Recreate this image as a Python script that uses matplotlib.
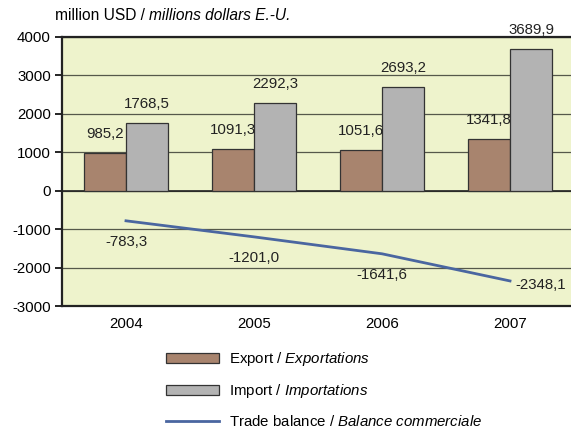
import matplotlib.pyplot as plt
import numpy as np
from matplotlib.patches import Patch
from matplotlib.lines import Line2D

plt.rcParams['font.family'] = ['Liberation Sans', 'DejaVu Sans']
plt.rcParams['mathtext.fontset'] = 'custom'
plt.rcParams['mathtext.rm'] = 'Liberation Sans'
plt.rcParams['mathtext.it'] = 'Liberation Sans:italic'
plt.rcParams['axes.unicode_minus'] = False

years = ['2004', '2005', '2006', '2007']
exports = [985.2, 1091.3, 1051.6, 1341.8]
imports = [1768.5, 2292.3, 2693.2, 3689.9]
balance = [-783.3, -1201.0, -1641.6, -2348.1]

def fmt(v):
  return f'{v:.1f}'.replace('.', ',')

fig = plt.figure(figsize=(5.71, 4.29), dpi=100)
ax = fig.add_axes([62/571, 1-306/429, 512/571, 269/429])
ax.set_facecolor('#eef3cc')

x = np.arange(len(years))
w = 0.328
ax.bar(x - w/2, exports, w, color='#a8846e', edgecolor='#333333', linewidth=0.9, zorder=3)
ax.bar(x + w/2, imports, w, color='#b3b3b3', edgecolor='#333333', linewidth=0.9, zorder=3)
ax.plot(x, balance, color='#4a66a0', linewidth=2, zorder=4)

fs = 10.8
for i in range(len(years)):
  ax.annotate(fmt(exports[i]), (x[i] - w/2, exports[i]), xytext=(0, 8.5), textcoords='offset points',
              ha='center', va='bottom', fontsize=fs, color='#222222')
  ax.annotate(fmt(imports[i]), (x[i] + w/2, imports[i]), xytext=(0, 8.5), textcoords='offset points',
              ha='center', va='bottom', fontsize=fs, color='#222222', zorder=6)
  if i < len(years) - 1:
    ax.annotate(fmt(balance[i]), (x[i], balance[i]), xytext=(0, -10), textcoords='offset points',
                ha='center', va='top', fontsize=fs, color='#222222')
  else:
    ax.annotate(fmt(balance[i]), (x[i], balance[i]), xytext=(4, -3), textcoords='offset points',
                ha='left', va='center', fontsize=fs, color='#222222')

ax.set_xlim(-0.5, 3.5)
ax.set_ylim(-3000, 4000)
ax.set_yticks(range(-3000, 4001, 1000))
ax.set_xticks(x)
ax.set_xticklabels(years)
ax.yaxis.grid(True, color='#55584a', linewidth=0.9, zorder=1)
ax.axhline(0, color='#222222', linewidth=1.2, zorder=2)
ax.tick_params(axis='y', direction='out', length=5, width=1.2, labelsize=fs, pad=3)
ax.tick_params(axis='x', length=0, labelsize=fs, pad=8)
for s in ['left', 'bottom', 'top']:
  ax.spines[s].set_linewidth(1.6)
  ax.spines[s].set_color('#222222')
ax.spines['right'].set_visible(False)

# titre: partie droite puis partie en italique
t1 = fig.text(55/571, 1-15/429, 'million USD / ', fontsize=11.2, va='center', ha='left')
ax.annotate('millions dollars E.-U.', xy=(1, 0.5), xycoords=t1, fontsize=11.2, style='italic',
            va='center', ha='left', annotation_clip=False)

handles = [
  Patch(facecolor='#a8846e', edgecolor='#333333', linewidth=0.9),
  Patch(facecolor='#b3b3b3', edgecolor='#333333', linewidth=0.9),
  Line2D([0], [0], color='#4a66a0', linewidth=2),
]
labels = ['Export / $\\it{Exportations}$', 'Import / $\\it{Importations}$',
          'Trade balance / $\\it{Balance\\ commerciale}$']
leg = fig.legend(handles, labels, loc='upper left', bbox_to_anchor=(166/571, 1-350/429),
                 frameon=False, fontsize=fs, handlelength=3.5, handleheight=0.7,
                 labelspacing=0.95, handletextpad=0.7, borderaxespad=0, borderpad=0)

fig.savefig('out.png', dpi=100)
